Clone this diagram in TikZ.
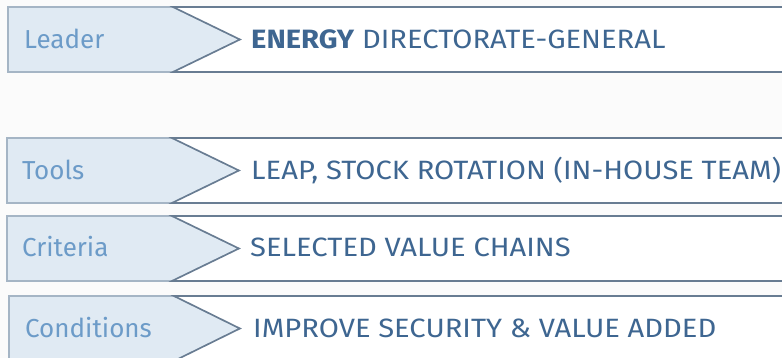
\documentclass[tikz,border=0pt]{standalone}
\usepackage{fontspec}
\setmainfont{Fira Sans}
\newfontfamily\widefont{Fira Sans}[FakeStretch=1.1]
\definecolor{bgc}{HTML}{FBFBFB}
\definecolor{lightfill}{HTML}{E0EAF3}
\definecolor{labeltext}{HTML}{6C9BC8}
\definecolor{maintext}{HTML}{3E6691}
\definecolor{darkline}{HTML}{687C92}
\definecolor{lightline}{HTML}{A5B5C5}
\tikzset{
  labelbox/.style={fill=lightfill, draw=lightline, line width=1.6pt, line join=miter},
  valuebox/.style={fill=white, draw=darkline, line width=1.6pt, line join=miter},
  labeltxt/.style={anchor=base west, inner sep=0pt, text=labeltext, font=\fontsize{26}{30}\selectfont},
  maintxt/.style={anchor=base west, inner sep=0pt, text=maintext, font=\widefont\fontsize{26.5}{30}\selectfont}
}
\newcommand{\rowshape}[5]{% x0, top, bottom, xc, tip
  \pgfmathsetmacro{\midy}{(#2+#3)/2}
  \draw[labelbox] (#1,#2) -- (#4,#2) -- (#5,\midy) -- (#4,#3) -- (#1,#3) -- cycle;
  \draw[valuebox] (#4,#2) -- (800,#2) -- (800,#3) -- (#4,#3) -- (#5,\midy) -- cycle;
}
\begin{document}
\begin{tikzpicture}[x=1pt,y=-1pt]
\useasboundingbox (0,0) rectangle (782,358);
\fill[bgc] (0,0) rectangle (782,358);
\begin{scope}
\clip (0,0) rectangle (782,358);
\rowshape{8}{7}{72}{173}{240}
\rowshape{7}{138}{203}{172}{239}
\rowshape{7}{216}{281}{172}{239}
\rowshape{9}{296}{361}{174}{240}
\node[labeltxt] (leader) at (24,49) {Leader};
\node[maintxt] (leaderval) at (251,49) {\textbf{ENERGY} DIRECTORATE-GENERAL};
\node[labeltxt] (tools) at (22,180) {Tools};
\node[maintxt] (toolsval) at (251,180) {LEAP, STOCK ROTATION (IN-HOUSE TEAM)};
\node[labeltxt] (criteria) at (22,257) {Criteria};
\node[maintxt] (criteriaval) at (250,257) {SELECTED VALUE CHAINS};
\node[labeltxt] (conditions) at (25,337) {Conditions};
\node[maintxt] (conditionsval) at (253,337) {IMPROVE SECURITY \& VALUE ADDED};
\end{scope}
\end{tikzpicture}
\end{document}
